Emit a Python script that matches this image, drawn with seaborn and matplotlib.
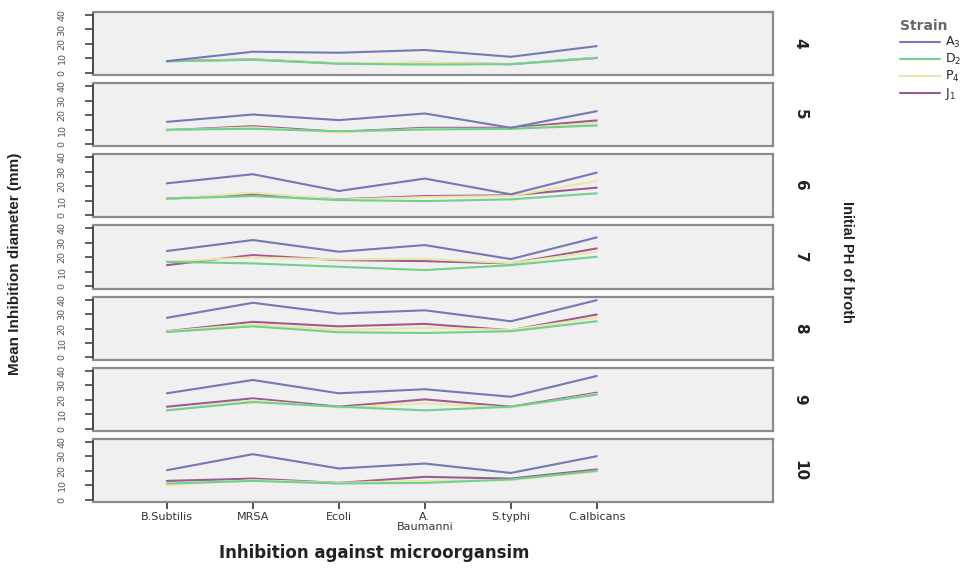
import matplotlib
matplotlib.use("Agg")
import matplotlib.pyplot as plt
import seaborn as sns
import pandas as pd
from matplotlib.lines import Line2D

organisms = ["B.Subtilis", "MRSA", "Ecoli", "A.\nBaumanni", "S.typhi", "C.albicans"]
ph_levels = [4, 5, 6, 7, 8, 9, 10]
strains = ["A3", "D2", "P4", "J1"]
strain_labels = ["A$_3$", "D$_2$", "P$_4$", "J$_1$"]

A3 = {4: [8.1, 14.6, 13.9, 15.8, 11.1, 18.5],
      5: [15.3, 20.4, 16.5, 21.1, 11.2, 22.7],
      6: [22.0, 28.3, 16.7, 25.3, 14.4, 29.4],
      7: [24.4, 32.0, 23.9, 28.5, 18.8, 33.8],
      8: [27.4, 37.8, 30.3, 32.6, 25.0, 39.6],
      9: [24.4, 33.6, 24.4, 27.2, 22.0, 36.4],
      10: [20.4, 31.5, 21.6, 25.0, 18.5, 30.1]}
D2 = {4: [8.0, 9.0, 6.3, 5.7, 6.0, 10.2],
      5: [9.9, 10.5, 8.8, 10.0, 10.5, 12.8],
      6: [11.4, 13.2, 10.4, 9.7, 10.9, 15.1],
      7: [16.9, 15.8, 13.5, 11.2, 14.6, 20.4],
      8: [17.6, 21.5, 17.4, 16.9, 18.1, 25.0],
      9: [12.6, 18.3, 15.1, 12.6, 15.1, 23.5],
      10: [11.2, 13.0, 11.2, 11.6, 14.0, 20.0]}
P4 = {4: [8.0, 9.2, 6.6, 7.0, 6.1, 10.3],
      5: [9.5, 11.5, 8.0, 10.5, 10.5, 14.5],
      6: [11.2, 15.5, 10.7, 12.5, 13.2, 23.6],
      7: [17.0, 20.0, 18.5, 19.0, 16.0, 24.0],
      8: [18.0, 23.0, 19.0, 20.5, 19.0, 27.5],
      9: [12.5, 19.5, 14.5, 17.5, 14.5, 24.0],
      10: [10.0, 13.5, 11.6, 13.0, 13.5, 19.4]}
J1 = {4: [8.1, 9.3, 6.5, 6.9, 6.0, 10.4],
      5: [9.5, 12.3, 8.4, 11.2, 11.2, 16.3],
      6: [11.4, 14.4, 10.9, 13.2, 13.7, 19.0],
      7: [14.6, 21.6, 18.1, 17.4, 15.8, 26.2],
      8: [18.1, 24.6, 21.5, 23.2, 18.8, 29.7],
      9: [15.1, 20.9, 15.1, 20.2, 15.1, 24.8],
      10: [13.0, 14.6, 11.6, 15.8, 14.6, 20.9]}
series = {"A3": A3, "D2": D2, "P4": P4, "J1": J1}

palette = {"A3": "#7478b4", "D2": "#6fd08f", "P4": "#ece6a6", "J1": "#9c5b93"}

rows = []
for s in strains:
    for ph in ph_levels:
        for i, v in enumerate(series[s][ph]):
            rows.append({"Strain": s, "pH": ph, "pos": i, "value": v})
df = pd.DataFrame(rows)

sns.set_theme(style="white")
plt.rcParams["font.family"] = ["DejaVu Sans"]

fig, axes = plt.subplots(len(ph_levels), 1, figsize=(9.68, 5.72), dpi=100, sharex=True)
fig.subplots_adjust(left=0.096, right=0.7986, top=0.979, bottom=0.1224, hspace=0.127)

for ax, ph in zip(axes, ph_levels):
    sub = df[df["pH"] == ph]
    sns.lineplot(data=sub, x="pos", y="value", hue="Strain", hue_order=strains[::-1],
                 palette=palette, ax=ax, legend=False, linewidth=1.5, sort=False)
    ax.set_facecolor("#f0f0f0")
    ax.set_xlim(-0.86, 7.05)
    ax.set_ylim(-1.6, 42.1)
    ax.set_yticks([0, 10, 20, 30, 40])
    ax.set_ylabel("")
    ax.set_xlabel("")
    for side in ["top", "right", "bottom"]:
        ax.spines[side].set_color("#8c8c8c")
        ax.spines[side].set_linewidth(1.6)
    ax.spines["left"].set_color("#4a4a4a")
    ax.spines["left"].set_linewidth(1.4)
    ax.tick_params(axis="y", direction="out", length=6, width=1.2, color="#444444",
                   labelsize=6.8, labelcolor="#555555", pad=13, left=True)
    for lab in ax.get_yticklabels():
        lab.set_rotation(90)
        lab.set_va("center")
    ax.tick_params(axis="x", bottom=False)
    ax.text(1.04, 0.5, str(ph), transform=ax.transAxes, rotation=-90,
            ha="center", va="center", fontsize=11, fontweight="bold", color="#222222")

axb = axes[-1]
axb.set_xticks(range(len(organisms)))
axb.set_xticklabels(organisms, fontsize=8, color="#333333", linespacing=1.0)
axb.tick_params(axis="x", bottom=True, direction="out", length=5, width=1.2,
                color="#333333", pad=2)

fig.text(0.387, 0.033, "Inhibition against microorgansim", ha="center", va="center",
         fontsize=12, fontweight="bold", color="#222222")
fig.text(0.0155, 0.538, "Mean Inhibition diameter (mm)", rotation=90, ha="center",
         va="center", fontsize=11, fontweight="bold", color="#222222",
         family=["Liberation Sans"])
fig.text(0.875, 0.542, "Initial PH of broth", rotation=-90, ha="center", va="center",
         fontsize=10.5, fontweight="bold", color="#222222", family=["Liberation Sans"])

handles = [Line2D([0], [0], color=palette[s], lw=1.5) for s in strains]
leg = fig.legend(handles, strain_labels, title="Strain", loc="upper left",
                 bbox_to_anchor=(0.925, 0.975), frameon=False, fontsize=9,
                 handlelength=3.2, handletextpad=0.4, labelspacing=0.15,
                 borderaxespad=0, alignment="left")
leg.get_title().set_fontweight("bold")
leg.get_title().set_color("#666666")
leg.get_title().set_fontsize(10)

fig.savefig("out.png", dpi=100)
